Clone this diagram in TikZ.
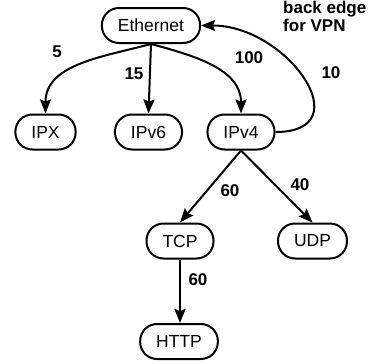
\documentclass[tikz,border=0pt]{standalone}
\usepackage{fontspec}
\setmainfont{Liberation Sans}
\usetikzlibrary{arrows.meta}
\tikzset{
  proto/.style={draw,line width=2pt,rounded corners=17pt,minimum height=35pt,
    inner xsep=16pt,inner ysep=0pt,font=\fontsize{17.5}{20}\selectfont},
  weight/.style={font=\bfseries\fontsize{17}{18}\selectfont},
  link/.style={line width=2pt,-{Stealth[length=14pt,width=11pt,inset=2pt]}}
}
\begin{document}
\begin{tikzpicture}[x=1pt,y=-1pt]
  \useasboundingbox (0,0) rectangle (378,364);
  % Draw protocol nodes
  \node[proto] (eth)  at (151,25.5) {Ethernet};
  \node[proto] (ipx)  at (45.5,132) {IPX};
  \node[proto] (ipv6) at (148.5,132) {IPv6};
  \node[proto] (ipv4) at (241,132) {IPv4};
  \node[proto] (tcp)  at (180,241) {TCP};
  \node[proto] (udp)  at (312.5,241) {UDP};
  \node[proto] (http) at (179,341.5) {HTTP};
  % Draw links
  \draw[link] (eth.south) to[out=195,in=90] (ipx.north);
  \draw[link] (eth.south) -- (ipv6.north);
  \draw[link] (eth.south) to[out=-15,in=90] (ipv4.north);
  \draw[link] (ipv4.east) to[out=0,in=0,looseness=1.7] (eth.east);
  \draw[link] (ipv4.south) -- (tcp.north);
  \draw[link] (ipv4.south) -- (udp.north);
  \draw[link] (tcp.south) -- (tcp.south |- http.north);
  % Weights
  \node[weight] (w5)    at (57,52)   {5};
  \node[weight] (w15)   at (134,74)  {15};
  \node[weight] (w100)  at (249,58)  {100};
  \node[weight] (w10)   at (331,73)  {10};
  \node[weight] (w60a)  at (230,191) {60};
  \node[weight] (w40)   at (300,185) {40};
  \node[weight] (w60b)  at (198,280) {60};
  \node[weight,align=left,anchor=north west,inner sep=0pt] (vpn) at (283,1) {back edge\\for VPN};
\end{tikzpicture}
\end{document}
